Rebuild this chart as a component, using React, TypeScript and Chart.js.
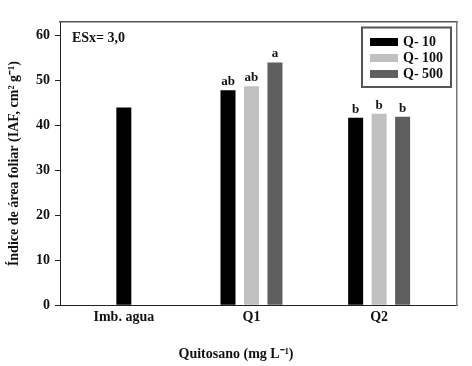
import React, { useEffect, useRef } from "react";
import { Chart, registerables } from "chart.js";

Chart.register(...registerables);

// ---- data ----
const categories = ["Imb. agua", "Q1", "Q2"];
const seriesNames = ["Q- 10", "Q- 100", "Q- 500"];
const q10Values: (number | null)[] = [44.0, 47.8, 41.7];
const q100Values: (number | null)[] = [null, 48.7, 42.6];
const q500Values: (number | null)[] = [null, 54.0, 41.9];
const q10Letters = ["", "ab", "b"];
const q100Letters = ["", "ab", "b"];
const q500Letters = ["", "a", "b"];
const yTickValues = [0, 10, 20, 30, 40, 50, 60];
const esxLabel = "ESx= 3,0";
const yTitle = "Índice de área foliar (IAF, cm² g⁻¹)";
const xTitle = "Quitosano (mg L⁻¹)";

const seriesColors = ["#000000", "#c0c0c0", "#5f5f5f"];
const FONT = "'Liberation Serif', 'Times New Roman', serif";

const allValues = [q10Values, q100Values, q500Values];
const allLetters = [q10Letters, q100Letters, q500Letters];

const annotationsPlugin = {
  id: "annotations",
  afterDatasetsDraw(chart: any) {
    const ctx = chart.ctx as CanvasRenderingContext2D;
    const area = chart.chartArea;
    ctx.save();
    // significance letters
    ctx.fillStyle = "#111";
    ctx.font = `bold 13px ${FONT}`;
    ctx.textAlign = "center";
    ctx.textBaseline = "alphabetic";
    allLetters.forEach((letters, di) => {
      const meta = chart.getDatasetMeta(di);
      letters.forEach((t, j) => {
        const el = meta.data[j];
        if (!t || !el) return;
        ctx.fillText(t, el.x, el.y - 5);
      });
    });
    // ESx label
    ctx.font = `bold 14px ${FONT}`;
    ctx.textAlign = "left";
    ctx.fillText(esxLabel, area.left + 12, area.top + 19.5);
    // legend
    const bx = area.right - 95;
    const by = area.top + 5.5;
    ctx.strokeStyle = "#555";
    ctx.lineWidth = 2;
    ctx.strokeRect(bx, by, 89, 59.5);
    ctx.font = `bold 14px ${FONT}`;
    ctx.textBaseline = "middle";
    chart.data.datasets.forEach((ds: any, i: number) => {
      const cy = area.top + 20 + i * 16;
      ctx.fillStyle = ds.backgroundColor;
      ctx.fillRect(bx + 8, cy - 4, 28, 8);
      ctx.fillStyle = "#111";
      ctx.fillText(ds.label, bx + 41, cy);
    });
    ctx.restore();
  },
};

export default function App() {
  const canvasRef = useRef<HTMLCanvasElement | null>(null);

  useEffect(() => {
    if (!canvasRef.current) return;
    const chart = new Chart(canvasRef.current, {
      type: "bar",
      data: {
        datasets: allValues.map((vals, i) => ({
          label: seriesNames[i],
          data: vals.map((v, j) => ({ x: j, y: v })),
          backgroundColor: seriesColors[i],
          borderWidth: 0,
          skipNull: true,
          categoryPercentage: 0.552,
          barPercentage: 0.64,
          maxBarThickness: 15,
        })) as any,
      },
      options: {
        animation: false,
        responsive: false,
        devicePixelRatio: 1,
        layout: { padding: 0 },
        font: { family: FONT },
        plugins: {
          legend: { display: false },
          tooltip: { enabled: false },
          title: {
            display: true,
            position: "bottom",
            text: xTitle,
            color: "#111",
            font: { family: FONT, size: 14, weight: "bold" },
            padding: { top: 8, bottom: 3 },
          },
        },
        scales: {
          x: {
            type: "linear",
            position: "bottom",
            offset: false,
            min: -0.5,
            max: 2.61,
            afterBuildTicks: (scale: any) => {
              scale.ticks = categories.map((_, i) => ({ value: i }));
            },
            afterFit: (scale: any) => {
              scale.height = 33;
            },
            ticks: {
              autoSkip: false,
              maxRotation: 0,
              padding: 4,
              color: "#111",
              font: { family: FONT, size: 14, weight: "bold" },
              callback: (v: any) => categories[v] ?? "",
            },
            grid: { display: false, drawTicks: false, offset: false },
            border: { display: true, color: "#222", width: 1 },
          },
          x2: {
            type: "linear",
            position: "top",
            offset: false,
            afterFit: (scale: any) => {
              scale.height = 22;
            },
            ticks: { display: false },
            grid: { display: false, drawTicks: false },
            border: { display: true, color: "#555", width: 1.5 },
          },
          y: {
            type: "linear",
            position: "left",
            min: 0,
            max: 63,
            afterBuildTicks: (scale: any) => {
              scale.ticks = yTickValues.map((v) => ({ value: v }));
            },
            afterFit: (scale: any) => {
              scale.width = 60;
            },
            ticks: {
              padding: 5,
              color: "#111",
              font: { family: FONT, size: 14, weight: "bold" },
            },
            grid: {
              display: true,
              drawOnChartArea: false,
              drawTicks: true,
              tickLength: 5,
              color: "#222",
            },
            border: { display: true, color: "#222", width: 1 },
            title: {
              display: true,
              text: yTitle,
              color: "#111",
              font: { family: FONT, size: 14, weight: "bold" },
              padding: { top: 6, bottom: 0 },
            },
          },
          y2: {
            type: "linear",
            position: "right",
            afterFit: (scale: any) => {
              scale.width = 15;
            },
            ticks: { display: false },
            grid: { display: false, drawTicks: false },
            border: { display: true, color: "#777", width: 1.5 },
          },
        },
      } as any,
      plugins: [annotationsPlugin],
    });
    return () => chart.destroy();
  }, []);

  return (
    <div style={{ position: "fixed", left: 0, top: 0, width: 472, height: 366, background: "#fff" }}>
      <canvas ref={canvasRef} width={472} height={366} style={{ display: "block" }} />
    </div>
  );
}
